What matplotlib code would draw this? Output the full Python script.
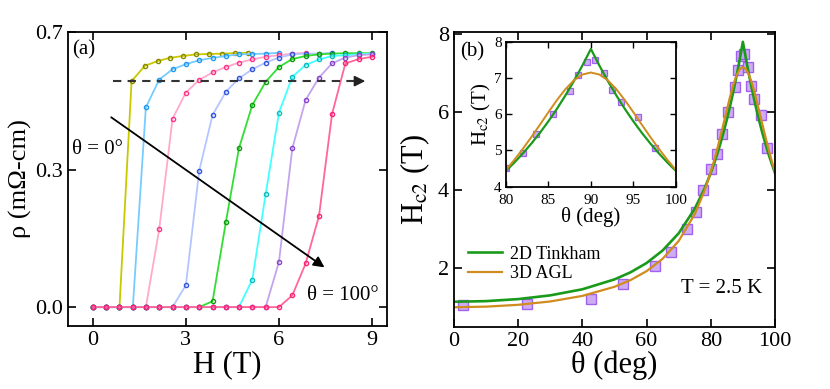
import matplotlib
matplotlib.use("Agg")
import matplotlib.pyplot as plt

plt.rcParams['font.family'] = ['Liberation Serif', 'DejaVu Serif']
plt.rcParams['mathtext.fontset'] = 'stix'

# panel (a): rho vs H for angles 0..100 deg
H_grid = [0, 0.43, 0.86, 1.29, 1.71, 2.14, 2.57, 3.0, 3.43, 3.86, 4.29,
          4.71, 5.14, 5.57, 6.0, 6.43, 6.86, 7.29, 7.71, 8.14, 8.57, 9.0]
H_0deg = [0, 0.43, 0.86, 1.25, 1.68, 2.09, 2.48, 2.91, 3.32, 3.74, 4.17, 4.58, 4.99]
rho_0deg = [0, 0, 0, 0.575, 0.614, 0.626, 0.634, 0.639, 0.643, 0.644, 0.645, 0.646, 0.647]
rho_c2 = [0, 0, 0, 0, 0.508, 0.579, 0.605, 0.618, 0.628, 0.634, 0.639, 0.643, 0.644, 0.645, 0.647]
rho_c3 = [0, 0, 0, 0, 0, 0.198, 0.479, 0.546, 0.578, 0.597, 0.611, 0.622, 0.630, 0.637,
          0.641, 0.645, 0.647]
rho_c4 = [0, 0, 0, 0, 0, 0, 0, 0.056, 0.347, 0.489, 0.548, 0.582, 0.605, 0.622, 0.635,
          0.643, 0.645, 0.645, 0.647]
rho_c5 = [0, 0, 0, 0, 0, 0, 0, 0, 0, 0.015, 0.217, 0.404, 0.514, 0.573, 0.611, 0.631,
          0.639, 0.643, 0.645, 0.646, 0.646, 0.646]
rho_c6 = [0, 0, 0, 0, 0, 0, 0, 0, 0, 0, 0, 0, 0.07, 0.287, 0.495, 0.586, 0.616, 0.630,
          0.639, 0.641, 0.643, 0.645]
rho_c7 = [0, 0, 0, 0, 0, 0, 0, 0, 0, 0, 0, 0, 0, 0, 0.115, 0.404, 0.527, 0.584, 0.620,
          0.635, 0.641, 0.643]
rho_100deg = [0, 0, 0, 0, 0, 0, 0, 0, 0, 0, 0, 0, 0, 0, 0, 0.03, 0.111, 0.232, 0.491,
              0.620, 0.631, 0.637]

line_colors = ['#c8c800', '#77ccff', '#ffaacc', '#b4c6ff', '#33dd33', '#44ffff', '#c4a4ec', '#ff6699']
mark_colors = ['#8a8a00', '#2299ee', '#ff3388', '#3355dd', '#119911', '#11bbbb', '#8844cc', '#ff2277']

# panel (b): Hc2 vs theta
theta = [2.7, 22.6, 42.6, 52.5, 62.6, 67.6, 72.5, 75.3, 77.5, 80.0, 82.0, 83.5, 85.5,
         87.5, 88.5, 89.5, 90.5, 91.5, 92.5, 93.5, 95.5, 97.5]
hc2 = [1.04, 1.06, 1.19, 1.57, 2.04, 2.41, 2.98, 3.42, 3.98, 4.52, 4.93, 5.44, 6.0,
       6.63, 7.07, 7.44, 7.49, 7.15, 6.67, 6.33, 5.91, 5.08]

th_fit = [0, 10, 20, 30, 40, 50, 55, 60, 65, 70, 75, 78, 80, 81, 82, 83, 84, 85, 86, 87,
          88, 89, 90, 91, 92, 93, 94, 95, 96, 97, 98, 99, 100]
tinkham = [1.12, 1.137, 1.189, 1.285, 1.441, 1.695, 1.877, 2.116, 2.438, 2.880, 3.510,
           4.019, 4.431, 4.663, 4.915, 5.187, 5.481, 5.800, 6.143, 6.514, 6.913, 7.341,
           7.80, 7.341, 6.913, 6.514, 6.143, 5.800, 5.481, 5.187, 4.915, 4.663, 4.431]
agl = [0.98, 0.995, 1.042, 1.128, 1.271, 1.505, 1.677, 1.907, 2.225, 2.682, 3.371,
       3.961, 4.456, 4.737, 5.041, 5.366, 5.705, 6.050, 6.384, 6.688, 6.933, 7.094,
       7.15, 7.094, 6.933, 6.688, 6.384, 6.050, 5.705, 5.366, 5.041, 4.737, 4.456]

fig = plt.figure(figsize=(8.3, 3.89), dpi=100)

# ---- left panel
ax1 = fig.add_axes([0.0819, 0.1620, 0.3843, 0.7558])
curves = [(H_0deg, rho_0deg)]
for r in [rho_c2, rho_c3, rho_c4, rho_c5, rho_c6, rho_c7, rho_100deg]:
    curves.append((H_grid[:len(r)], r))
for (h, r), lc, mc in zip(curves, line_colors, mark_colors):
    ax1.plot(h, r, '-', color=lc, lw=1.3, marker='o', ms=3.0,
             mfc='none', mec=mc, mew=1.0)

ax1.set_xlim(-0.8, 9.48)
ax1.set_ylim(-0.048, 0.7)
ax1.set_xticks([0, 3, 6, 9])
ax1.set_yticks([0, 0.35, 0.7])
ax1.set_yticklabels(['0.0', '0.3', '0.7'])
ax1.tick_params(direction='in', length=6, width=1.2, labelsize=16, top=True, right=True)
ax1.set_xlabel('H (T)', fontsize=22, labelpad=0)
ax1.set_ylabel('ρ (mΩ-cm)', fontsize=19, labelpad=2)

# dashed arrow
ax1.plot([0.65, 8.5], [0.575, 0.575], '--', color='#333333', lw=1.5, dashes=(4, 3))
ax1.annotate('', xy=(8.87, 0.575), xytext=(8.4, 0.575),
             arrowprops=dict(arrowstyle='-|>', color='#222222', lw=1.2, mutation_scale=16))
# solid arrow
ax1.annotate('', xy=(7.54, 0.097), xytext=(0.52, 0.487),
             arrowprops=dict(arrowstyle='-|>', color='black', lw=1.3, mutation_scale=16))

ax1.text(0.0125, 0.94, '(a)', transform=ax1.transAxes, fontsize=15, va='center')
ax1.text(-0.68, 0.40, 'θ = 0°', fontsize=15, va='center')
ax1.text(6.9, 0.03, 'θ = 100°', fontsize=15, va='center')

# ---- right panel
ax2 = fig.add_axes([0.5470, 0.1602, 0.3867, 0.7583])
ax2.plot(theta, hc2, 's', ms=6.5, mfc='#c9a3f2', mec='#9955ee', mew=1.0, alpha=0.9)
ax2.plot(th_fit, tinkham, '-', color='#1a9a1a', lw=1.9, label='2D Tinkham')
ax2.plot(th_fit, agl, '-', color='#d08c1c', lw=1.6, label='3D AGL')
ax2.set_xlim(0, 100)
ax2.set_ylim(0.48, 8.06)
ax2.set_xticks([0, 20, 40, 60, 80, 100])
ax2.set_yticks([2, 4, 6, 8])
ax2.tick_params(direction='in', length=6, width=1.2, labelsize=16, top=True, right=True)
ax2.set_xlabel('θ (deg)', fontsize=22, labelpad=0)
ax2.set_ylabel(r'H$_{\mathrm{c2}}$ (T)', fontsize=22, labelpad=4)
ax2.legend(loc='upper left', bbox_to_anchor=(0.044, 0.275), frameon=False, fontsize=13,
           handlelength=1.9, handletextpad=0.4, labelspacing=0.15, borderpad=0,
           borderaxespad=0)
ax2.text(0.96, 0.131, 'T = 2.5 K', transform=ax2.transAxes, fontsize=15,
         ha='right', va='center')
ax2.text(0.019, 0.931, '(b)', transform=ax2.transAxes, fontsize=15, va='center')

# ---- inset
ax3 = fig.add_axes([0.6093, 0.5201, 0.2052, 0.3727])
ax3.plot(theta, hc2, 's', ms=4.5, mfc='#c9a3f2', mec='#9955ee', mew=0.9, alpha=0.9)
ax3.plot(th_fit, tinkham, '-', color='#1a9a1a', lw=1.6)
ax3.plot(th_fit, agl, '-', color='#d08c1c', lw=1.4)
ax3.set_xlim(80, 100)
ax3.set_ylim(4, 8)
ax3.set_xticks([80, 85, 90, 95, 100])
ax3.set_yticks([4, 5, 6, 7, 8])
ax3.tick_params(direction='in', length=4, width=1.0, labelsize=11, top=True, right=True)
ax3.tick_params(axis='x', pad=5)
ax3.tick_params(axis='y', pad=3)
ax3.set_xlabel('θ (deg)', fontsize=15, labelpad=0)
ax3.set_ylabel(r'H$_{\mathrm{c2}}$ (T)', fontsize=15, labelpad=1)

for ax in (ax1, ax2, ax3):
    for s in ax.spines.values():
        s.set_linewidth(1.3)

fig.savefig('out.png', dpi=100)
